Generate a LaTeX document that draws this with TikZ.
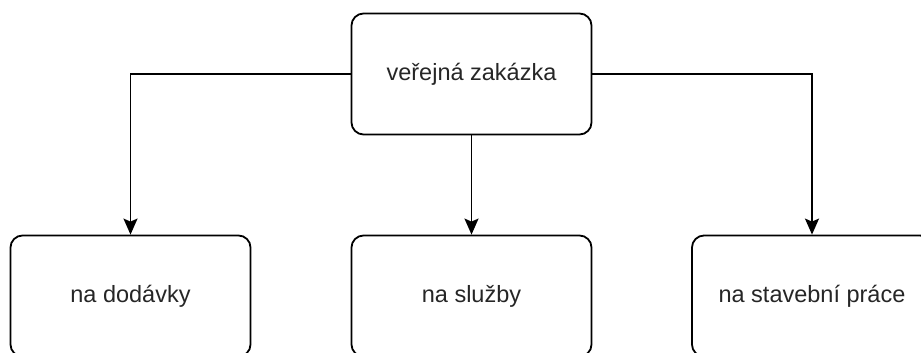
\documentclass[tikz,border=0pt]{standalone}
\usepackage{fontspec}
\setmainfont{Liberation Sans}
\usetikzlibrary{arrows.meta}
\begin{document}
\begin{tikzpicture}[x=1pt,y=-1pt,
  box/.style={draw=black, line width=1.8pt, rounded corners=12pt, fill=white,
    minimum width=240pt, minimum height=121pt, inner sep=0pt,
    font=\fontsize{23.5}{27}\selectfont, text=black!85},
  link/.style={draw=black, line width=1.8pt,
    -{Stealth[length=16pt, width=14pt, inset=3pt]}}]
  \useasboundingbox (0,0) rectangle (921,353);
  % Parent node
  \node[box] (root) at (471.5,74) {veřejná zakázka};
  % Child nodes
  \node[box] (supplies) at (130.5,296) {na dodávky};
  \node[box] (services) at (471.5,296) {na služby};
  \node[box] (works)    at (812,296)  {na stavební práce};
  % Connectors
  \draw[link] (root.west) -| (supplies.north);
  \draw[link] (root.south) -- (services.north);
  \draw[link] (root.east) -| (works.north);
\end{tikzpicture}
\end{document}
